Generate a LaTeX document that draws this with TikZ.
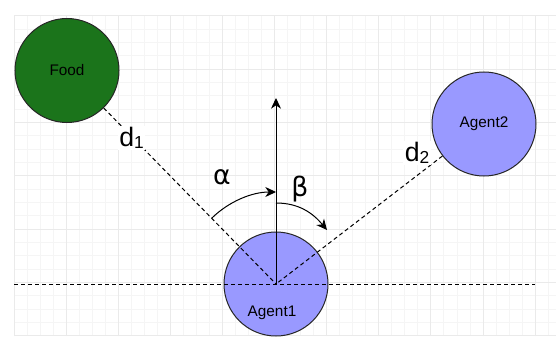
\documentclass[tikz,border=0pt]{standalone}
\usepackage{fontspec}
\setmainfont{Liberation Sans}
\newfontfamily\greekfont{DejaVu Sans}
\usetikzlibrary{arrows.meta}
\definecolor{FoodGreen}{HTML}{1B741B}
\definecolor{AgentBlue}{HTML}{9999FF}
\definecolor{GridMinor}{HTML}{F5F5F5}
\definecolor{GridMajor}{HTML}{EAEAEA}

\begin{document}
\begin{tikzpicture}[x=0.75pt, y=0.75pt, font=\fontsize{11.5}{14}\selectfont,
    >={Stealth[length=8pt, width=7.5pt, inset=2.5pt]},
    blob/.style={draw=black!85, line width=0.75pt, circle, minimum size=78pt, inner sep=0pt},
    ray/.style={line width=0.75pt, dash pattern=on 3pt off 2.25pt},
    biglabel/.style={font=\fontsize{20}{24}\selectfont, inner sep=1pt}]
                \useasboundingbox (0,0) rectangle (556,336);
                % grid
                \foreach \k in {0,...,41} \draw[GridMinor, line width=0.75pt] ({14+13.03*\k},0) -- ({14+13.03*\k},320);
                \foreach \k in {0,...,24} \draw[GridMinor, line width=0.75pt] (14,{320-13.33*\k}) -- (556,{320-13.33*\k});
                \foreach \k in {0,...,10} \draw[GridMajor, line width=0.75pt] ({14+52.12*\k},0) -- ({14+52.12*\k},320);
                \foreach \k in {0,...,6} \draw[GridMajor, line width=0.75pt] (14,{320-53.33*\k}) -- (556,{320-53.33*\k});

                \node[blob, fill=FoodGreen] (food) at (67,265.5) {Food};
                \node[blob, fill=AgentBlue] (agent2) at (484,212) {Agent2};
                \node[blob, fill=AgentBlue, label={[shift={(-4,-29)}]center:Agent1}] (agent1) at (276,52) {};
                \coordinate (left) at (14,52);
                \coordinate (right) at (535,52);
                \coordinate (up) at (276,238);

                \draw[ray] (left) -- (right);
                \draw[ray] (food) -- (agent1.center);
                \draw[ray] (agent2) -- (agent1.center);
                \draw[->, line width=0.75pt] (agent1.center) -- (up);

                \draw[->, line width=0.75pt] (agent1.center) ++(134.3:92) arc[start angle=134.3, end angle=90, radius=92];
                \coordinate (betaStart) at (276,133);
                \coordinate (betaEnd) at (327,106);
                \draw[->, line width=0.75pt] (betaStart) to[out=0, in=130] (betaEnd);

                \node[biglabel, fill=white] (d1) at (131.5,198) {d{\fontsize{13}{14}\selectfont\raisebox{-1pt}{1}}};
                \node[biglabel, fill=white] (d2) at (417,183) {d{\fontsize{13}{14}\selectfont\raisebox{-1pt}{2}}};
                \node[biglabel, font=\fontsize{20}{24}\selectfont\greekfont] (alpha) at (222,158.5) {α};
                \node[biglabel, font=\fontsize{20}{24}\selectfont\greekfont] (beta) at (300,147) {β};
            \end{tikzpicture}
\end{document}
